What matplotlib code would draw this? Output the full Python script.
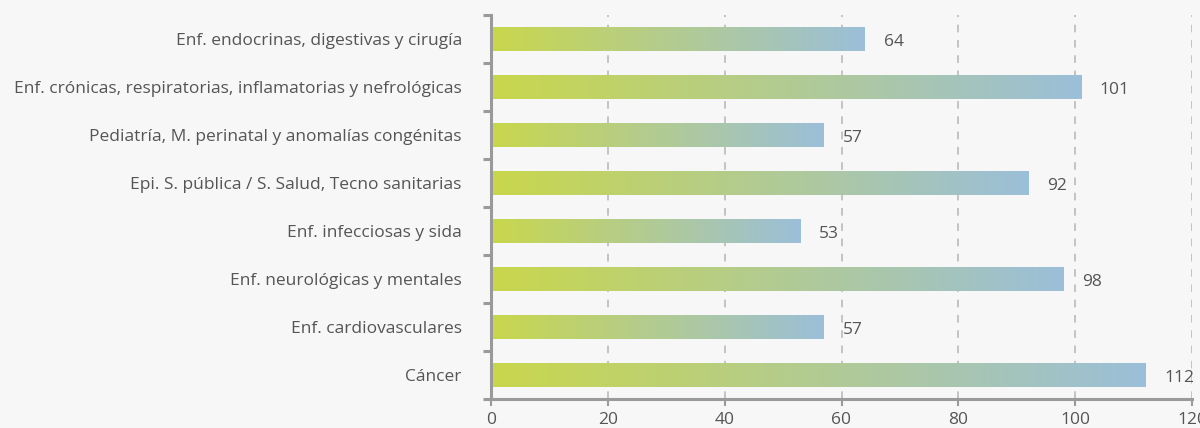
import matplotlib
matplotlib.use("Agg")
import matplotlib.pyplot as plt
import numpy as np
from matplotlib.colors import LinearSegmentedColormap

categories = [
    "Cáncer",
    "Enf. cardiovasculares",
    "Enf. neurológicas y mentales",
    "Enf. infecciosas y sida",
    "Epi. S. pública / S. Salud, Tecno sanitarias",
    "Pediatría, M. perinatal y anomalías congénitas",
    "Enf. crónicas, respiratorias, inflamatorias y nefrológicas",
    "Enf. endocrinas, digestivas y cirugía",
]
values = [112, 57, 98, 53, 92, 57, 101, 64]
xticks = [0, 20, 40, 60, 80, 100, 120]

plt.rcParams['font.family'] = ['Open Sans', 'DejaVu Sans']
bg = '#f7f7f7'
txt = '#555555'
axcol = '#9a9a9a'

fig = plt.figure(figsize=(12, 4.28), dpi=100, facecolor=bg)
ax = fig.add_axes([491/1200, 1-399/428, (1192-491)/1200, (399-15)/428])
ax.set_facecolor(bg)

cmap = LinearSegmentedColormap.from_list('g', ['#c9d74c', '#9bbfd9'])
grad = np.linspace(0, 1, 256).reshape(1, -1)
bh = 0.5
for i, v in enumerate(values):
    ax.imshow(grad, cmap=cmap, aspect='auto', extent=[0, v, i - bh/2, i + bh/2],
              interpolation='bilinear', zorder=2)
    ax.text(v + 3.2, i - 0.02, str(v), va='center_baseline', ha='left', fontsize=12.5,
            color=txt, zorder=3)

ax.set_xlim(0, 120)
ax.set_ylim(-0.5, len(categories) - 0.5)
for x in xticks[1:]:
    ax.axvline(x, color='#b5b5b5', lw=1.1, ls=(0, (5, 5)), zorder=1)

ax.set_xticks(xticks)
ax.set_xticklabels([str(x) for x in xticks], fontsize=12.5, color=txt)
ax.set_yticks(np.arange(-0.5, len(categories), 1.0))
ax.set_yticklabels([])
ax.set_yticks(np.arange(len(categories)), minor=True)
ax.set_yticklabels(categories, minor=True, fontsize=12.5, color=txt, va='center_baseline')
ax.tick_params(axis='y', which='minor', length=0, pad=21)
ax.tick_params(axis='y', which='major', length=6, width=2.2, color=axcol)
ax.tick_params(axis='x', which='major', length=5, width=1.5, color=axcol, pad=4)

for s in ['top', 'right']:
    ax.spines[s].set_visible(False)
for s in ['left', 'bottom']:
    ax.spines[s].set_color(axcol)
    ax.spines[s].set_linewidth(2.2)

fig.savefig('out.png', dpi=100, facecolor=bg)
